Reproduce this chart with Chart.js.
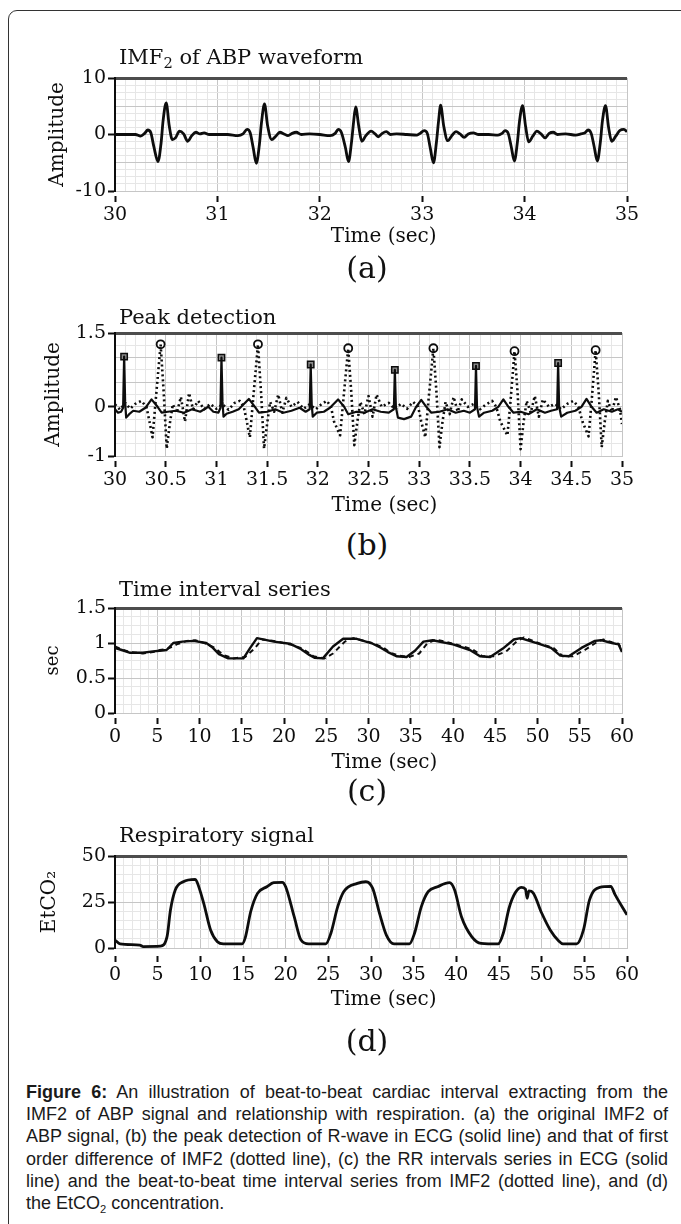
<!DOCTYPE html>
<html>
<head>
<meta charset="utf-8">
<script src="https://cdn.jsdelivr.net/npm/chart.js@4.4.0/dist/chart.umd.min.js"></script>
<style>
  body { margin: 0; background: #fff; }
  #page { position: relative; width: 681px; height: 1224px; overflow: hidden; background: #fff; }
  #frame { position: absolute; left: 8px; top: 10px; width: 720px; height: 1260px; border: 1.5px solid #333; border-radius: 9px; }
  canvas { position: absolute; left: 0; }
  .ttl { position: absolute; left: 119px; font: 21px/1 'DejaVu Serif', serif; color: #111; white-space: nowrap; }
  .ttl sub { font-size: 0.7em; vertical-align: -0.3em; line-height: 0; }
  .tag { position: absolute; left: 367px; transform: translateX(-50%); font: 30px/1 'DejaVu Serif', serif; color: #111; }
  #caption { position: absolute; left: 26px; top: 1081px; width: 642px; font: 18px/22.2px 'Liberation Sans', Arial, sans-serif; color: #1a1a1a; }
  #caption div { white-space: nowrap; text-align: justify; text-align-last: justify; }
  #caption div.last { text-align-last: left; }
  #caption sub { font-size: 0.62em; vertical-align: -0.35em; line-height: 0; }
</style>
</head>
<body>
<div id="page">
  <div id="frame"></div>
  <canvas id="cA"></canvas>
  <canvas id="cB"></canvas>
  <canvas id="cC"></canvas>
  <canvas id="cD"></canvas>

  <div class="ttl" style="top:47px">IMF<sub>2</sub> of ABP waveform</div>
  <div class="tag" style="top:253px">(a)</div>
  <div class="ttl" style="top:307px">Peak detection</div>
  <div class="tag" style="top:530px">(b)</div>
  <div class="ttl" style="top:579px">Time interval series</div>
  <div class="tag" style="top:776px">(c)</div>
  <div class="ttl" style="top:825px">Respiratory signal</div>
  <div class="tag" style="top:1026px">(d)</div>

  <div id="caption">
    <div><b>Figure 6:</b> An illustration of beat-to-beat cardiac interval extracting from the</div>
    <div>IMF2 of ABP signal and relationship with respiration. (a) the original IMF2 of</div>
    <div>ABP signal, (b) the peak detection of R-wave in ECG (solid line) and that of first</div>
    <div>order difference of IMF2 (dotted line), (c) the RR intervals series in ECG (solid</div>
    <div>line) and the beat-to-beat time interval series from IMF2 (dotted line), and (d)</div>
    <div class="last">the EtCO<sub>2</sub> concentration.</div>
  </div>
</div>

<script>
// (a) IMF2 of ABP waveform, [time s, amplitude]
const abpWave = [
  [30.00,0],[30.10,0],[30.20,0],[30.25,-0.3],[30.29,0.2],[30.32,0.8],[30.35,0.3],[30.38,-2.2],[30.42,-4.8],
  [30.45,-1.5],[30.47,2.5],[30.50,5.6],[30.53,1.5],[30.56,-0.9],[30.59,-0.6],[30.63,0.6],[30.67,0.1],
  [30.71,-1.2],[30.75,-0.2],[30.79,0.4],[30.83,0.1],[30.87,0.3],[30.92,0],[31.00,0],[31.10,0],
  [31.20,-0.2],[31.25,0.1],[31.29,0.9],[31.32,0.3],[31.35,-2.4],[31.38,-5.1],[31.41,-1.8],[31.43,2.0],
  [31.46,5.4],[31.49,1.6],[31.53,-0.9],[31.57,-0.3],[31.61,0.4],[31.65,0.1],[31.69,-0.2],[31.73,0.2],
  [31.77,0.4],[31.82,0],[31.90,0.1],[32.00,0],[32.10,-0.2],[32.15,0.2],[32.18,0.9],[32.21,0.4],
  [32.25,-2.3],[32.28,-4.8],[32.31,-1.3],[32.33,2.2],[32.35,4.9],[32.38,1.5],[32.41,-1.2],[32.45,-0.2],
  [32.50,0.6],[32.54,0.1],[32.57,-0.4],[32.61,0.2],[32.65,0.5],[32.69,0],[32.75,0.1],[32.85,0],
  [32.95,-0.1],[32.98,0.2],[33.02,0.7],[33.05,0.2],[33.08,-2.5],[33.11,-5.0],[33.14,-1.2],[33.16,2.4],
  [33.18,5.2],[33.21,1.5],[33.25,-1.1],[33.29,-0.2],[33.33,0.5],[33.37,0.1],[33.41,-0.5],[33.45,0.1],
  [33.50,0.3],[33.55,0],[33.65,0],[33.74,-0.1],[33.78,0.2],[33.81,0.7],[33.84,0.2],[33.87,-2.2],
  [33.90,-4.7],[33.93,-1.3],[33.95,2.3],[33.98,5.1],[34.01,1.4],[34.04,-1.3],[34.08,-0.3],[34.12,0.6],
  [34.16,0.1],[34.20,-0.6],[34.24,0.2],[34.28,0.4],[34.32,0],[34.40,0.1],[34.50,-0.1],[34.55,0.1],
  [34.59,0.3],[34.62,0.8],[34.65,0.2],[34.68,-2.2],[34.71,-4.7],[34.74,-1.3],[34.76,2.4],[34.79,5.1],
  [34.82,1.3],[34.85,-1.2],[34.89,-0.3],[34.93,0.7],[34.97,0.9],[35.00,0.5]
];

// (b) ECG R-wave (solid) and first order difference of IMF2 (dotted)
const ecgLine = [
  [30.00,-0.05],[30.03,-0.12],[30.06,-0.1],[30.08,-0.02],[30.09,1.02],[30.10,0.1],[30.11,-0.22],[30.14,-0.15],
  [30.18,-0.08],[30.24,-0.1],[30.30,-0.02],[30.36,0.15],[30.42,0.0],[30.46,-0.12],[30.52,-0.1],[30.60,-0.08],
  [30.68,-0.12],[30.76,-0.05],[30.84,-0.1],[30.92,0.0],[30.97,-0.1],[31.02,-0.12],[31.04,-0.02],[31.05,1.0],
  [31.06,0.1],[31.07,-0.2],[31.10,-0.14],[31.16,-0.1],[31.22,-0.05],[31.32,0.16],[31.38,0.0],[31.42,-0.12],
  [31.50,-0.1],[31.58,-0.05],[31.66,-0.12],[31.74,-0.08],[31.82,-0.02],[31.88,-0.1],[31.92,-0.05],[31.93,0.86],
  [31.94,0.05],[31.95,-0.2],[31.99,-0.12],[32.06,-0.1],[32.12,-0.02],[32.20,0.15],[32.26,0.0],[32.30,-0.15],
  [32.38,-0.1],[32.46,-0.12],[32.54,-0.05],[32.62,-0.1],[32.70,-0.12],[32.75,-0.05],[32.76,0.75],[32.77,0.0],
  [32.79,-0.22],[32.85,-0.25],[32.92,-0.2],[32.97,0.0],[33.02,0.14],[33.07,0.0],[33.12,-0.12],[33.20,-0.1],
  [33.28,-0.05],[33.36,-0.12],[33.44,-0.08],[33.50,-0.12],[33.55,-0.05],[33.56,0.83],[33.57,0.0],[33.59,-0.2],
  [33.64,-0.12],[33.72,-0.08],[33.78,0.0],[33.83,0.15],[33.88,0.0],[33.93,-0.12],[34.00,-0.1],[34.08,-0.15],
  [34.16,-0.05],[34.24,-0.12],[34.30,-0.08],[34.36,-0.05],[34.37,0.89],[34.38,0.0],[34.40,-0.2],[34.46,-0.12],
  [34.54,-0.08],[34.60,0.0],[34.65,0.16],[34.70,0.0],[34.75,-0.12],[34.82,-0.05],[34.90,-0.1],[34.96,-0.05],
  [35.00,-0.1]
];
const diffLine = [
  [30.00,0.05],[30.05,-0.06],[30.10,0.08],[30.15,-0.04],[30.20,0.06],[30.26,0.12],[30.31,0.0],[30.34,-0.3],
  [30.37,-0.62],[30.40,0.1],[30.45,1.27],[30.48,0.3],[30.51,-0.85],[30.54,-0.35],[30.57,0.05],[30.61,-0.12],
  [30.65,0.2],[30.69,-0.3],[30.73,0.28],[30.77,-0.05],[30.82,0.12],[30.88,-0.05],[30.94,0.06],[31.00,-0.04],
  [31.06,0.05],[31.12,-0.06],[31.18,0.08],[31.23,0.12],[31.27,0.0],[31.30,-0.3],[31.33,-0.62],[31.36,0.1],
  [31.41,1.27],[31.44,0.3],[31.47,-0.85],[31.50,-0.35],[31.53,0.1],[31.57,-0.1],[31.61,0.25],[31.65,-0.12],
  [31.69,0.18],[31.74,0.0],[31.80,0.1],[31.86,-0.04],[31.92,0.05],[31.98,-0.05],[32.04,0.06],[32.09,0.12],
  [32.13,0.0],[32.16,-0.3],[32.22,-0.58],[32.25,0.1],[32.30,1.19],[32.33,0.3],[32.36,-0.78],[32.39,-0.3],
  [32.42,0.1],[32.46,-0.15],[32.50,0.22],[32.54,-0.2],[32.58,0.25],[32.63,0.0],[32.70,0.08],[32.76,-0.05],
  [32.82,0.06],[32.88,-0.04],[32.94,0.1],[32.99,0.0],[33.02,-0.3],[33.06,-0.62],[33.09,0.1],[33.14,1.19],
  [33.17,0.3],[33.20,-0.82],[33.23,-0.3],[33.26,0.1],[33.30,-0.15],[33.34,0.2],[33.38,-0.1],[33.42,0.15],
  [33.48,0.0],[33.54,0.06],[33.60,-0.05],[33.66,0.05],[33.72,0.12],[33.76,0.0],[33.80,-0.3],[33.87,-0.58],
  [33.90,0.1],[33.94,1.13],[33.97,0.3],[34.00,-0.86],[34.03,-0.3],[34.06,0.12],[34.10,-0.12],[34.14,0.22],
  [34.18,-0.2],[34.22,0.15],[34.28,0.0],[34.34,0.06],[34.40,-0.05],[34.46,0.06],[34.52,0.12],[34.57,0.0],
  [34.61,-0.3],[34.67,-0.6],[34.70,0.1],[34.74,1.15],[34.77,0.3],[34.80,-0.82],[34.83,-0.3],[34.86,0.12],
  [34.90,-0.1],[34.94,0.2],[34.98,-0.05],[35.00,-0.35]
];
const ecgPeakT = [30.09, 31.05, 31.93, 32.76, 33.56, 34.37];
const ecgPeakV = [1.02, 1.0, 0.86, 0.75, 0.83, 0.89];
const diffPeakT = [30.45, 31.41, 32.30, 33.14, 33.94, 34.74];
const diffPeakV = [1.27, 1.27, 1.19, 1.19, 1.13, 1.15];

// (c) RR interval series from ECG (solid) and from IMF2 (dashed), [time s, interval s]
const rrEcg = [
  [0,0.93],[0.8,0.9],[1.8,0.86],[3.3,0.86],[4.5,0.88],[5.3,0.89],[6.1,0.9],[6.9,1.0],[8,1.02],[9.3,1.03],
  [10.8,1.0],[11.5,0.94],[12.3,0.84],[13.4,0.78],[15.2,0.78],[16.0,0.93],[16.8,1.07],[18.8,1.02],[20.7,0.99],
  [21.9,0.92],[23.0,0.83],[23.6,0.79],[24.6,0.78],[25.8,0.95],[27.0,1.06],[28.6,1.06],[30.5,0.99],[31.5,0.93],
  [32.3,0.87],[33.3,0.81],[34.5,0.8],[35.5,0.89],[36.5,1.02],[37.6,1.04],[40.0,0.98],[42.0,0.9],[43.2,0.81],
  [44.4,0.8],[45.9,0.92],[47.2,1.05],[48.0,1.07],[50.1,0.99],[51.6,0.93],[52.7,0.82],[53.7,0.81],[55.2,0.93],
  [56.8,1.03],[57.5,1.04],[58.8,1.0],[59.6,0.98],[60,0.87]
];
const rrImf = [
  [0,0.95],[0.8,0.91],[1.8,0.87],[3.3,0.85],[4.5,0.87],[5.3,0.9],[6.1,0.91],[7.3,0.98],[8.5,1.03],[9.5,1.04],
  [10.8,0.99],[11.8,0.93],[12.8,0.83],[14.0,0.78],[15.4,0.8],[16.5,0.92],[17.4,1.05],[18.8,1.03],[20.7,0.98],
  [22.2,0.92],[23.5,0.81],[24.8,0.78],[25.8,0.85],[27.2,1.02],[28.2,1.07],[30.5,1.0],[31.8,0.93],[32.6,0.86],
  [33.6,0.82],[34.8,0.8],[36.0,0.85],[37.0,1.0],[38.0,1.05],[40.0,0.99],[42.3,0.91],[43.5,0.81],[44.8,0.81],
  [46.3,0.88],[47.6,1.03],[48.4,1.08],[50.1,1.0],[51.9,0.93],[53.0,0.81],[54.2,0.81],[55.6,0.9],[57.0,1.01],
  [57.8,1.05],[58.8,1.01],[59.6,0.99],[60,0.9]
];

// (d) EtCO2 respiratory signal, [time s, EtCO2]
const etco2 = [
  [0,4.3],[0.6,2.2],[2.9,1.6],[3.3,0.8],[5.3,1.0],[6.1,6.2],[6.5,20.6],[7.06,31.5],[8.0,36],[9.4,37.3],[9.6,36],
  [10.4,24.3],[11.2,9.8],[12.0,3.4],[12.7,2.2],[14.9,2.2],[15.3,6.2],[15.9,19.7],[16.7,29.7],[17.8,33.3],
  [18.6,35.5],[19.6,35.7],[20.0,33.3],[21.0,17],[21.8,4.3],[22.7,2.2],[24.7,2.2],[25.3,8],[26.1,22.5],[26.8,30.6],
  [28.4,35.1],[29.4,36],[30.2,32.4],[31.0,18.8],[31.8,7],[32.7,2.2],[34.5,2.2],[35.1,8],[35.9,22.5],[36.7,30.6],
  [37.8,33.3],[39.2,35.5],[39.8,31.5],[40.6,17],[41.8,6.2],[42.9,2.5],[44.9,2.2],[45.5,8],[46.2,22],[46.9,30],
  [47.6,33],[48.1,32],[48.3,27],[48.5,31],[49.0,30],[50.0,19],[51.0,9.8],[52.0,3.8],[52.5,2.2],[54.1,2.2],
  [54.9,9.8],[55.6,26],[56.8,33],[58.1,33.5],[58.6,29],[60,18]
];

const INK = '#0d0d0d';
const GRID_MAJOR = '#c6c6c6';
const GRID_MINOR = '#e6e6e6';
Chart.defaults.font.family = "'DejaVu Serif', serif";
Chart.defaults.color = INK;

const pts = arr => arr.map(([x, y]) => ({x, y}));
const zip = (xs, ys) => xs.map((x, i) => ({x, y: ys[i]}));
const near = (v, m) => Math.abs(v / m - Math.round(v / m)) < 1e-6;
const isIn = (v, list) => list.some(l => Math.abs(l - v) < 1e-6);

// leading spaces nudge the axis title right, as in the original figure
function xScale(o) {
  return {
    type: 'linear', position: 'bottom', min: o.min, max: o.max,
    afterFit: s => { s.height = o.height; },
    grid: {
      color: c => near(c.tick.value, o.major) ? GRID_MAJOR : GRID_MINOR,
      lineWidth: 1,
      tickLength: o.gap + 7,
      tickColor: c => near(c.tick.value, o.major) ? INK : 'rgba(0,0,0,0)',
      tickWidth: 2,
      tickBorderDash: [0, o.gap, 7, 300]
    },
    border: { color: GRID_MAJOR, width: 1 },
    ticks: {
      stepSize: o.step, autoSkip: false, maxRotation: 0, minRotation: 0, maxTicksLimit: 1000,
      padding: o.pad, color: INK, font: { size: 19 },
      callback: v => near(v, o.major) ? String(+v.toFixed(2)) : ''
    },
    title: { display: true, text: ' '.repeat(o.shift) + 'Time (sec)', color: INK, font: { size: 20 },
             padding: { top: 0, bottom: o.titlePad } }
  };
}

function yScale(o) {
  return {
    type: 'linear', position: 'left', min: o.min, max: o.max,
    afterFit: s => { s.width = 115; },
    grid: {
      color: c => Math.abs(c.tick.value - o.max) < 1e-6 ? '#4d4d4d' : near(c.tick.value, o.major) ? GRID_MAJOR : GRID_MINOR,
      lineWidth: c => Math.abs(c.tick.value - o.max) < 1e-6 ? 3 : 1,
      tickLength: 7,
      tickColor: c => isIn(c.tick.value, o.labels) ? INK : 'rgba(0,0,0,0)',
      tickWidth: 2
    },
    border: { color: INK, width: 2 },
    ticks: {
      stepSize: o.step, autoSkip: false, maxTicksLimit: 1000, padding: 2, color: INK, font: { size: 19 },
      callback: v => isIn(v, o.labels) ? String(v) : ''
    },
    title: { display: true, text: o.title, color: INK, font: { size: o.titleSize || 20 }, padding: { top: o.titlePad, bottom: 0 } }
  };
}

function plot(id, top, height, padRight, datasets, x, y) {
  const cv = document.getElementById(id);
  cv.width = 681;
  cv.height = height;
  cv.style.top = top + 'px';
  return new Chart(cv, {
    type: 'line',
    data: { datasets },
    options: {
      responsive: false, animation: false, events: [],
      layout: { padding: { top: 20, right: padRight, left: 0, bottom: 0 } },
      plugins: { legend: { display: false }, tooltip: { enabled: false } },
      elements: { point: { radius: 0 }, line: { borderJoinStyle: 'round' } },
      scales: { x, y }
    }
  });
}

// (a)
plot('cA', 58, 197, 54, [
  { data: pts(abpWave), borderColor: INK, borderWidth: 2.8, cubicInterpolationMode: 'monotone' }
], xScale({ min: 30, max: 35, step: 0.1, major: 1, height: 64, gap: 4, pad: 2, titlePad: 6, shift: 4 }),
   yScale({ min: -10, max: 10, step: 1.25, major: 5, labels: [-10, 0, 10], title: 'Amplitude', titlePad: 46 }));

// (b)
plot('cB', 313, 207, 59, [
  { data: pts(diffLine), borderColor: INK, borderWidth: 2.6, borderDash: [2, 3] },
  { data: pts(ecgLine), borderColor: INK, borderWidth: 2.2 },
  { data: zip(ecgPeakT, ecgPeakV), showLine: false, pointRadius: 4.5, pointStyle: 'rect',
    pointBackgroundColor: '#8a8a8a', pointBorderColor: INK, pointBorderWidth: 1.5 },
  { data: zip(diffPeakT, diffPeakV), showLine: false, pointRadius: 4, pointStyle: 'circle',
    pointBackgroundColor: '#fff', pointBorderColor: INK, pointBorderWidth: 1.8 }
], xScale({ min: 30, max: 35, step: 0.1, major: 0.5, height: 64, gap: 4, pad: 2, titlePad: 2, shift: 5 }),
   yScale({ min: -1, max: 1.5, step: 0.25, major: 0.5, labels: [-1, 0, 1.5], title: 'Amplitude', titlePad: 42 }));

// (c)
plot('cC', 588, 190, 59, [
  { data: pts(rrImf), borderColor: INK, borderWidth: 2, borderDash: [5, 4] },
  { data: pts(rrEcg), borderColor: INK, borderWidth: 2.4 }
], xScale({ min: 0, max: 60, step: 1, major: 5, height: 65, gap: 4, pad: 2, titlePad: 3, shift: 5 }),
   yScale({ min: 0, max: 1.5, step: 0.125, major: 0.5, labels: [0, 0.5, 1, 1.5], title: 'sec', titleSize: 18, titlePad: 43 }));

// (d)
plot('cD', 836, 179, 54, [
  { data: pts(etco2), borderColor: INK, borderWidth: 2.8, cubicInterpolationMode: 'monotone' }
], xScale({ min: 0, max: 60, step: 1, major: 5, height: 67, gap: 7, pad: 2, titlePad: 3, shift: 4 }),
   yScale({ min: 0, max: 50, step: 5, major: 25, labels: [0, 25, 50], title: 'EtCO\u2082', titlePad: 38 }));
</script>
</body>
</html>
